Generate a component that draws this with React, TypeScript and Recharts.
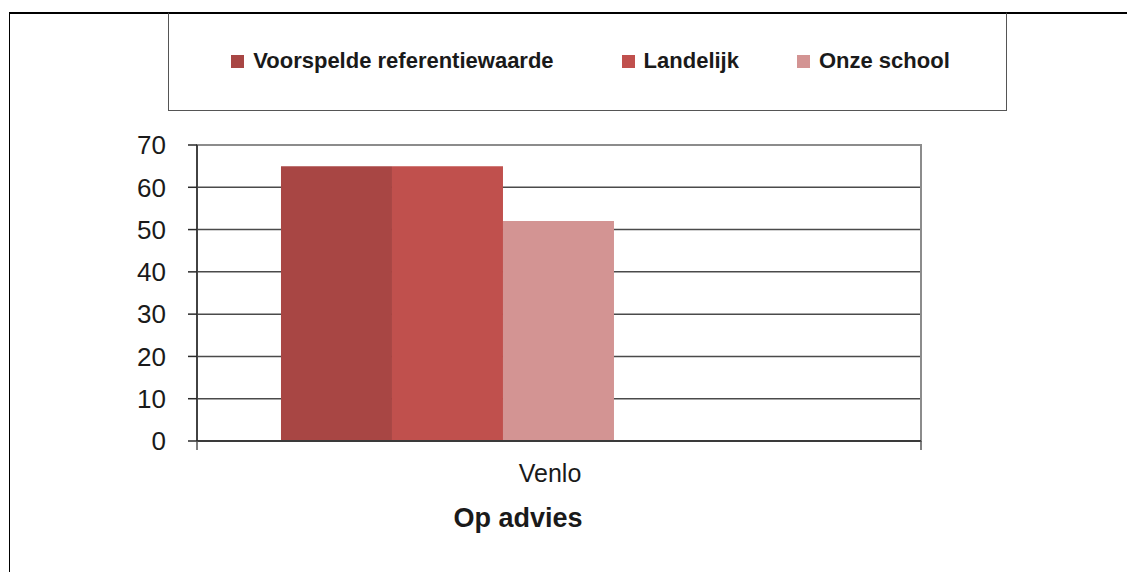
import React from 'react';
import { BarChart, Bar, XAxis, YAxis, CartesianGrid, Legend, ReferenceArea } from 'recharts';

const categories = ['Venlo'];
const voorspeldeReferentiewaarde = [65];
const landelijk = [65];
const onzeSchool = [52];
const leegA: (number | null)[] = [null];
const leegB: (number | null)[] = [null];
const yTicks = [0, 10, 20, 30, 40, 50, 60, 70];
const seriesNames = ['Voorspelde referentiewaarde', 'Landelijk', 'Onze school'];
const seriesColors = ['#A84644', '#C0504D', '#D39493'];
const xTitle = 'Op advies';

const data = categories.map((c, i) => ({
  categorie: c,
  v: voorspeldeReferentiewaarde[i],
  l: landelijk[i],
  o: onzeSchool[i],
  a: leegA[i],
  b: leegB[i],
}));

const FONT = '"Liberation Sans", Arial, Helvetica, sans-serif';
const legendGaps = [0, 68, 58];

const XTick = (props: any) => {
  const { x, y, payload } = props;
  const half = payload && typeof payload.offset === 'number' && payload.offset > 0 ? payload.offset : 362;
  return (
    <g>
      <line x1={x - half} x2={x - half} y1={y} y2={y + 9} stroke="#555" strokeWidth={1.5} />
      <line x1={x + half} x2={x + half} y1={y} y2={y + 9} stroke="#555" strokeWidth={1.5} />
      <text x={x - 9} y={y + 41} textAnchor="middle" fontSize={25} fill="#1a1a1a" fontFamily={FONT}>
        {payload.value}
      </text>
      <text x={x - 41} y={y + 86} textAnchor="middle" fontSize={27} fontWeight="bold" fill="#1a1a1a" fontFamily={FONT}>
        {xTitle}
      </text>
    </g>
  );
};

const LegendContent = (props: any) => {
  const items = (props.payload || [])
    .filter((p: any) => p.type !== 'none' && seriesNames.indexOf(p.value) >= 0)
    .slice()
    .sort((a: any, b: any) => seriesNames.indexOf(a.value) - seriesNames.indexOf(b.value));
  return (
    <div
      style={{
        width: '100%',
        height: '100%',
        display: 'flex',
        alignItems: 'center',
        justifyContent: 'center',
        paddingLeft: 6,
        paddingBottom: 2,
        boxSizing: 'border-box',
        fontFamily: FONT,
      }}
    >
      {items.map((p: any, i: number) => (
        <div key={p.value} style={{ display: 'flex', alignItems: 'center', marginLeft: legendGaps[i] || 0 }}>
          <span style={{ display: 'inline-block', width: 13, height: 13, background: p.color, marginRight: 9 }} />
          <span style={{ fontSize: 22, fontWeight: 'bold', color: '#1a1a1a', lineHeight: '24px' }}>{p.value}</span>
        </div>
      ))}
    </div>
  );
};

export default function App() {
  return (
    <div
      style={{
        position: 'absolute',
        left: 0,
        top: 0,
        width: 1127,
        height: 572,
        overflow: 'hidden',
        background: '#fff',
      }}
    >
      <div
        style={{
          position: 'absolute',
          left: 9,
          top: 12,
          width: 1300,
          height: 800,
          border: '1px solid #000',
          borderTop: '2px solid #000',
        }}
      />
      <div style={{ position: 'absolute', left: 0, top: 0 }}>
        <BarChart
          width={1127}
          height={572}
          data={data}
          margin={{ top: 145, right: 206, bottom: 11, left: 97 }}
          barCategoryGap="11.6%"
          barGap={0}
        >
          <CartesianGrid vertical={false} stroke="#4a4a4a" strokeWidth={1.5} />
          <ReferenceArea y1={0} y2={70} fill="none" stroke="#8c8c8c" strokeWidth={2} ifOverflow="visible" />
          <Legend
            layout="horizontal"
            verticalAlign="middle"
            align="center"
            wrapperStyle={{
              left: 168,
              top: 12,
              width: 839,
              height: 99,
              border: '1.5px solid #555',
              borderTop: '2px solid #000',
              boxSizing: 'border-box',
              background: '#fff',
            }}
            content={<LegendContent />}
          />
          <XAxis
            dataKey="categorie"
            height={120}
            tickSize={0}
            tickMargin={0}
            tickLine={false}
            axisLine={{ stroke: '#3a3a3a', strokeWidth: 2 }}
            tick={<XTick />}
            interval={0}
          />
          <YAxis
            width={100}
            domain={[0, 70]}
            ticks={yTicks}
            interval={0}
            tickSize={9}
            tickMargin={22}
            axisLine={{ stroke: '#2a2a2a', strokeWidth: 1.5 }}
            tickLine={{ stroke: '#2a2a2a', strokeWidth: 1.5 }}
            tick={{ fontSize: 26, fill: '#1a1a1a', fontFamily: FONT }}
          />
          <Bar dataKey="v" name={seriesNames[0]} fill={seriesColors[0]} isAnimationActive={false} />
          <Bar dataKey="l" name={seriesNames[1]} fill={seriesColors[1]} isAnimationActive={false} />
          <Bar dataKey="o" name={seriesNames[2]} fill={seriesColors[2]} isAnimationActive={false} />
          <Bar dataKey="a" fill="none" legendType="none" isAnimationActive={false} />
          <Bar dataKey="b" fill="none" legendType="none" isAnimationActive={false} />
        </BarChart>
      </div>
    </div>
  );
}
